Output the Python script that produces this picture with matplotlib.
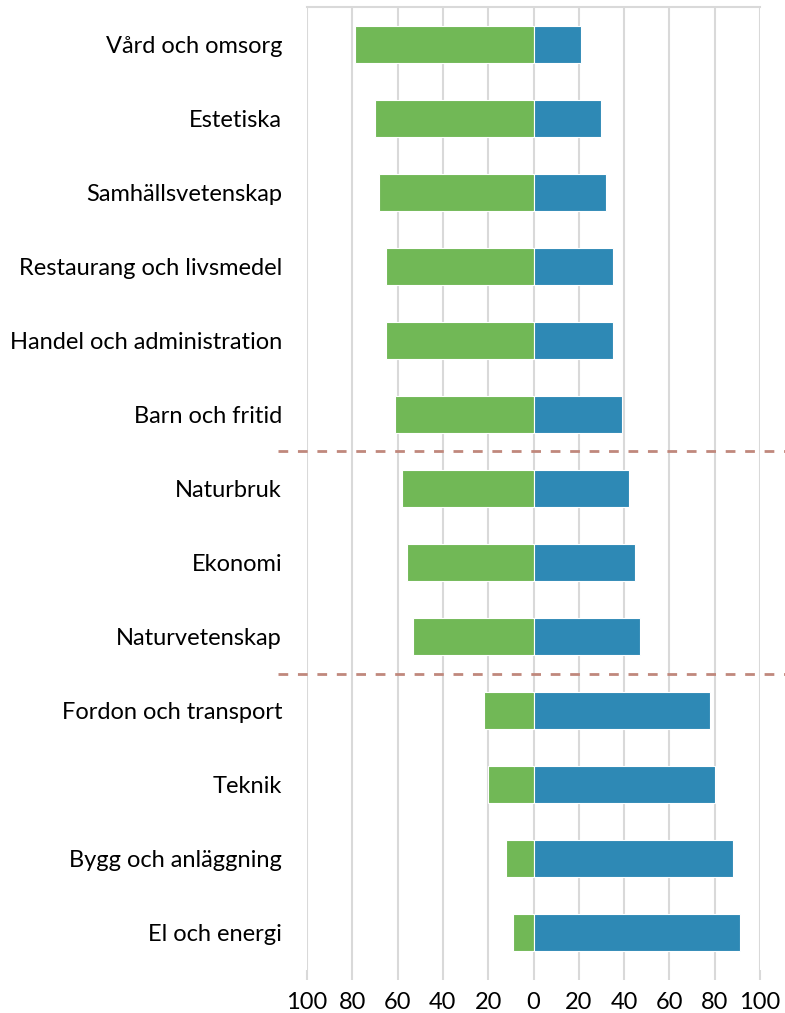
import matplotlib
matplotlib.use("Agg")
import matplotlib.pyplot as plt
from matplotlib.transforms import blended_transform_factory

categories = ["Vård och omsorg", "Estetiska", "Samhällsvetenskap", "Restaurang och livsmedel",
              "Handel och administration", "Barn och fritid", "Naturbruk", "Ekonomi",
              "Naturvetenskap", "Fordon och transport", "Teknik", "Bygg och anläggning",
              "El och energi"]
women = [79, 70, 68, 65, 65, 61, 58, 56, 53, 22, 20, 12, 9]
men = [21, 30, 32, 35, 35, 39, 42, 45, 47, 78, 80, 88, 91]
xticks = [-100, -80, -60, -40, -20, 0, 20, 40, 60, 80, 100]
xticklabels = ["100", "80", "60", "40", "20", "0", "20", "40", "60", "80", "100"]
separators_after = ["Barn och fritid", "Naturvetenskap"]

plt.rcParams['font.family'] = ['Lato', 'DejaVu Sans']

fig = plt.figure(figsize=(7.85, 10.13), dpi=100)
ax = fig.add_axes([307/785, 1-970/1013, (760-307)/785, (970-7)/1013])

y = list(range(len(categories)))
ax.barh(y, [-w for w in women], height=0.5, color="#71B856", edgecolor="white", linewidth=0.8, zorder=3)
ax.barh(y, men, height=0.5, color="#2E89B5", edgecolor="white", linewidth=0.8, zorder=3)

ax.set_ylim(len(categories)-0.5, -0.5)
ax.set_xlim(-100, 100)
ax.set_yticks(y)
ax.set_yticklabels(categories, fontsize=17)
ax.set_xticks(xticks)
ax.set_xticklabels(xticklabels, fontsize=17)
ax.tick_params(axis='y', length=0, pad=18)
ax.tick_params(axis='x', length=7, width=1.5, color="#D9D9D9", pad=9)
ax.grid(axis='x', color="#D9D9D9", linewidth=1.5, zorder=0)

for s in ["left", "right", "bottom"]:
    ax.spines[s].set_visible(False)
ax.spines["top"].set_color("#D9D9D9")
ax.spines["top"].set_linewidth(1.5)

trans = blended_transform_factory(fig.transFigure, ax.transData)
for name in separators_after:
    idx = categories.index(name)
    ax.plot([278/785, 1.0], [idx+0.5, idx+0.5], transform=trans, color="#C0887C",
            linewidth=2, linestyle=(0, (3.5, 3.5)), clip_on=False, zorder=4)

fig.savefig("out.png", dpi=100)
